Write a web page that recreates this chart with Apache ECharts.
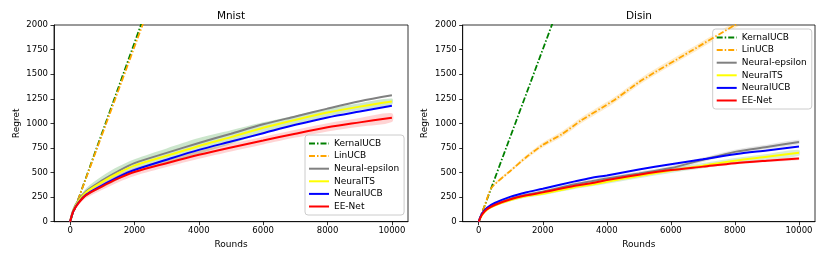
<!DOCTYPE html>
<html>
<head>
<meta charset="utf-8">
<script src="https://cdn.jsdelivr.net/npm/echarts@6/dist/echarts.min.js"></script>
<style>html,body{margin:0;padding:0;background:#fff;}#c{width:831px;height:258px;}</style>
</head>
<body>
<div id="c"></div>
<script>
// ---------- data ----------
const seriesNames = ['KernalUCB', 'LinUCB', 'Neural-epsilon', 'NeuralTS', 'NeuralUCB', 'EE-Net'];
const xTicks = [0, 2000, 4000, 6000, 8000, 10000];
const yTicks = [0, 250, 500, 750, 1000, 1250, 1500, 1750, 2000];

// Mnist
const mnistKernelX = [0, 100, 200, 2200, 2400];
const mnistKernelY = [0, 95, 180, 2000, 2180];
const mnistLinX = [0, 100, 200, 2250, 2450];
const mnistLinY = [0, 95, 180, 2000, 2175];
const mnistX = [0, 100, 250, 500, 1000, 1500, 2000, 3000, 4000, 5000, 6000, 7000, 8000, 9000, 10000];
const mnistEps = [0, 120, 215, 310, 420, 515, 595, 700, 800, 895, 990, 1070, 1150, 1225, 1285];
const mnistTS  = [0, 115, 205, 300, 405, 495, 570, 670, 770, 860, 955, 1035, 1110, 1170, 1222];
const mnistUCB = [0, 105, 190, 275, 370, 455, 525, 630, 730, 815, 900, 985, 1060, 1120, 1178];
const mnistEE  = [0, 105, 185, 270, 360, 440, 505, 595, 680, 755, 825, 895, 960, 1010, 1058];
const mnistTSSpread = [0, 10, 25, 40, 60, 65, 65, 75, 80, 70, 55, 45, 40, 35, 30];
const mnistEESpread = [0, 10, 20, 30, 35, 38, 40, 40, 40, 40, 40, 40, 42, 45, 45];

// Disin
const disinKernelX = [0, 400, 2284, 2400];
const disinKernelY = [0, 350, 2000, 2100];
const disinLinX = [0, 200, 400, 1000, 1500, 2000, 2600, 3200, 4200, 5100, 6600, 8000, 8500];
const disinLinY = [0, 175, 345, 520, 660, 780, 890, 1030, 1230, 1440, 1730, 2000, 2090];
const disinLinSpread = [0, 5, 10, 15, 20, 25, 30, 30, 30, 30, 30, 30, 30];
const disinX = [0, 100, 250, 500, 1000, 1500, 2000, 3000, 3500, 4000, 5000, 6000, 7000, 8000, 9000, 10000];
const disinEps = [0, 75, 130, 175, 235, 275, 305, 380, 410, 440, 490, 545, 630, 710, 760, 810];
const disinTS  = [0, 65, 120, 165, 220, 260, 285, 350, 375, 405, 465, 520, 570, 620, 660, 700];
const disinUCB = [0, 80, 140, 190, 255, 300, 335, 410, 445, 470, 530, 585, 635, 685, 725, 765];
const disinEE  = [0, 70, 125, 170, 228, 268, 298, 365, 390, 425, 478, 525, 560, 595, 620, 642];
const disinEpsSpread = [0, 5, 8, 10, 12, 14, 15, 18, 18, 20, 20, 22, 22, 22, 22, 22];
const disinTSSpread  = [0, 5, 8, 10, 12, 14, 15, 18, 18, 20, 22, 24, 26, 28, 28, 30];
const disinEESpread  = [0, 4, 6, 8, 10, 10, 10, 12, 12, 12, 12, 14, 14, 14, 14, 14];

// ---------- helpers ----------
const FONT = 'DejaVu Sans';
const colors = {
  'KernalUCB': '#008000', 'LinUCB': '#FFA500', 'Neural-epsilon': '#808080',
  'NeuralTS': '#FFFF00', 'NeuralUCB': '#0000FF', 'EE-Net': '#FF0000'
};
const dashDot = [6, 2, 1.5, 2];
function pairs(xs, ys) { return xs.map((x, i) => [x, ys[i]]); }
function lineSeries(name, xs, ys, idx, dashed, smooth) {
  return {
    type: 'line', name: name, xAxisIndex: idx, yAxisIndex: idx,
    data: pairs(xs, ys), symbol: 'none', showSymbol: false,
    smooth: smooth, clip: true, z: 5,
    lineStyle: { color: colors[name], width: dashed ? 1.8 : 2, type: dashed ? dashDot : 'solid' },
    itemStyle: { color: colors[name] },
    emphasis: { disabled: true }
  };
}
function bandSeries(xs, center, spread, idx, fill) {
  const data = xs.map((x, i) => [x, center[i] - spread[i], center[i] + spread[i]]);
  return {
    type: 'custom', xAxisIndex: idx, yAxisIndex: idx, silent: true, z: 1,
    data: data,
    encode: { x: 0, y: [1, 2] },
    renderItem: function (params, api) {
      if (params.dataIndex !== 0) return null;
      const upper = data.map(d => api.coord([d[0], d[2]]));
      const lower = data.map(d => api.coord([d[0], d[1]])).reverse();
      const cs = params.coordSys;
      return {
        type: 'polygon',
        shape: { points: upper.concat(lower), smooth: 0.3 },
        style: { fill: fill, stroke: null },
        clipPath: { type: 'rect', shape: { x: cs.x, y: cs.y, width: cs.width, height: cs.height } }
      };
    }
  };
}
function xAxis(idx) {
  return {
    type: 'value', gridIndex: idx, min: -500, max: 10500,
    name: 'Rounds', nameLocation: 'middle', nameGap: 17,
    nameTextStyle: { fontFamily: FONT, fontSize: 9, color: '#000' },
    axisLine: { show: true, onZero: false, lineStyle: { color: '#000', width: 0.8 } },
    axisTick: { show: true, length: 3.5, customValues: xTicks, lineStyle: { color: '#000', width: 0.8 } },
    axisLabel: { customValues: xTicks, margin: 5, fontFamily: FONT, fontSize: 8.5, color: '#000', formatter: v => String(v) },
    splitLine: { show: false }
  };
}
function yAxis(idx, gap) {
  return {
    type: 'value', gridIndex: idx, min: 0, max: 2000, interval: 250,
    name: 'Regret', nameLocation: 'middle', nameGap: gap, nameRotate: 90,
    nameTextStyle: { fontFamily: FONT, fontSize: 9, color: '#000' },
    axisLine: { show: true, onZero: false, lineStyle: { color: '#000', width: 0.8 } },
    axisTick: { show: true, length: 3.5, customValues: yTicks, lineStyle: { color: '#000', width: 0.8 } },
    axisLabel: { customValues: yTicks, margin: 6, fontFamily: FONT, fontSize: 8.5, color: '#000', formatter: v => String(v) },
    splitLine: { show: false }
  };
}
function legend(left, top) {
  return {
    data: seriesNames, orient: 'vertical', left: left, top: top,
    itemWidth: 20, itemHeight: 10, itemGap: 3.6, padding: [4, 5, 4, 3],
    itemStyle: { opacity: 0 },
    backgroundColor: 'rgba(255,255,255,0.8)', borderColor: '#cccccc', borderWidth: 1, borderRadius: 3,
    textStyle: { fontFamily: FONT, fontSize: 9, color: '#000', padding: [0, 0, 0, 0] },
    selectedMode: false
  };
}

const series = [];
// Mnist (grid 0)
series.push(bandSeries(mnistX, mnistTS, mnistTSSpread, 0, 'rgba(0,128,0,0.2)'));
series.push(bandSeries(mnistX, mnistEE, mnistEESpread, 0, 'rgba(255,0,0,0.17)'));
series.push(lineSeries('KernalUCB', mnistKernelX, mnistKernelY, 0, true, false));
series.push(lineSeries('LinUCB', mnistLinX, mnistLinY, 0, true, false));
series.push(lineSeries('Neural-epsilon', mnistX, mnistEps, 0, false, 0.3));
series.push(lineSeries('NeuralTS', mnistX, mnistTS, 0, false, 0.3));
series.push(lineSeries('NeuralUCB', mnistX, mnistUCB, 0, false, 0.3));
series.push(lineSeries('EE-Net', mnistX, mnistEE, 0, false, 0.3));
// Disin (grid 1)
series.push(bandSeries(disinLinX, disinLinY, disinLinSpread, 1, 'rgba(255,165,0,0.2)'));
series.push(bandSeries(disinX, disinEps, disinEpsSpread, 1, 'rgba(128,128,128,0.2)'));
series.push(bandSeries(disinX, disinTS, disinTSSpread, 1, 'rgba(0,128,0,0.15)'));
series.push(bandSeries(disinX, disinEE, disinEESpread, 1, 'rgba(255,0,0,0.15)'));
series.push(lineSeries('KernalUCB', disinKernelX, disinKernelY, 1, true, false));
series.push(lineSeries('LinUCB', disinLinX, disinLinY, 1, true, 0.2));
series.push(lineSeries('Neural-epsilon', disinX, disinEps, 1, false, 0.3));
series.push(lineSeries('NeuralTS', disinX, disinTS, 1, false, 0.3));
series.push(lineSeries('NeuralUCB', disinX, disinUCB, 1, false, 0.3));
series.push(lineSeries('EE-Net', disinX, disinEE, 1, false, 0.3));

const chart = echarts.init(document.getElementById('c'), null, { renderer: 'canvas' });
chart.setOption({
  animation: false,
  backgroundColor: '#ffffff',
  graphic: [
    { type: 'text', x: 231, y: 16, style: { text: 'Mnist', fontFamily: FONT, fontSize: 10.5, fill: '#000', textAlign: 'center', textVerticalAlign: 'middle' } },
    { type: 'text', x: 639, y: 16, style: { text: 'Disin', fontFamily: FONT, fontSize: 10.5, fill: '#000', textAlign: 'center', textVerticalAlign: 'middle' } }
  ],
  grid: [
    { left: 54, right: 423, top: 25, bottom: 36.3, show: true, borderColor: '#000', borderWidth: 0.8, backgroundColor: 'transparent' },
    { left: 462.7, right: 16, top: 25, bottom: 36.3, show: true, borderColor: '#000', borderWidth: 0.8, backgroundColor: 'transparent' }
  ],
  xAxis: [xAxis(0), xAxis(1)],
  yAxis: [yAxis(0, 33), yAxis(1, 34)],
  legend: [legend(305, 135), legend(712.7, 29)],
  series: series
});
</script>
</body>
</html>
